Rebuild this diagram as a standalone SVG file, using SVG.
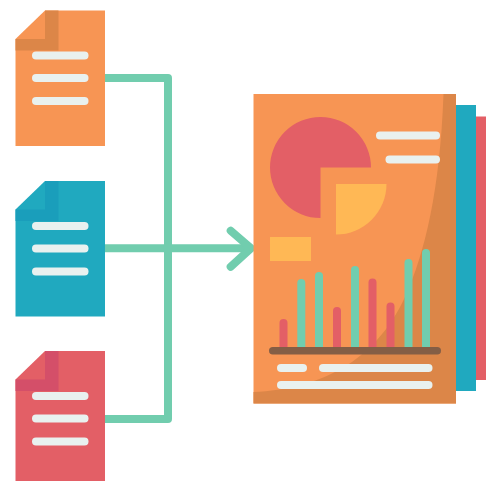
<svg xmlns="http://www.w3.org/2000/svg" width="486" height="481" viewBox="0 0 486 481">
<style>
.ln{fill:#e9f1ef}
.g{fill:#71cdae}
.r{fill:#e35f66}
.y{fill:#ffb855}
.c{fill:none;stroke:#71cdae;stroke-width:8;stroke-linecap:round;stroke-linejoin:round}
</style>
<defs>
<g id="lines">
<rect class="ln" x="32" y="51.500" width="56.500" height="8" rx="4"/>
<rect class="ln" x="32" y="74" width="56.500" height="8" rx="4"/>
<rect class="ln" x="32" y="97" width="56.500" height="8" rx="4"/>
</g>
</defs>
<g id="connectors">
<path class="c" d="M105 78H168V419H105M105 248.300H250"/>
<path class="c" d="M230.700 230.700L251 248.300L230.700 266.700"/>
</g>
<g id="doc-orange">
<path fill="#f79554" d="M45 10.500H105V146H15.500V39Z"/>
<path fill="#dc8648" d="M45 10.500H58.500V50.500H15.500V39H45Z"/>
<use href="#lines"/>
</g>
<g id="doc-teal">
<path fill="#20a9bf" d="M45 181H105V316.500H15.500V209.500Z"/>
<path fill="#1a9ebb" d="M45 181H58.500V221H15.500V209.500H45Z"/>
<use href="#lines" y="170.500"/>
</g>
<g id="doc-red">
<path fill="#e35f66" d="M45 351H105V481H15.500V379.500Z"/>
<path fill="#d44f69" d="M45 351H58.500V391H15.500V379.500H45Z"/>
<use href="#lines" y="340.500"/>
</g>
<g id="report">
<rect class="r" x="476" y="116.500" width="10" height="263.500"/>
<rect fill="#20a9bf" x="456" y="105" width="20" height="286"/>
<rect fill="#f79554" x="253.500" y="94" width="202.500" height="309.500"/>
<path fill="#dc8648" d="M443.500 94H456V403.500H253.500V392C320 389 375 362 405 297C425 253 440 190 443.500 94Z"/>
<path class="r" d="M320.500 167.500H371A50.500 50.500 0 1 0 320.500 218Z"/>
<path class="y" d="M336 184H386.500A50.500 50.500 0 0 1 336 234.500Z"/>
<rect class="y" x="270" y="237" width="41" height="24"/>
<rect class="ln" x="376" y="131.500" width="64" height="8" rx="4"/>
<rect class="ln" x="385.500" y="155.500" width="54.500" height="8" rx="4"/>
<rect class="r" x="279.500" y="319" width="8" height="32" rx="4"/>
<rect class="g" x="297.300" y="279" width="8" height="72" rx="4"/>
<rect class="g" x="315" y="272" width="8" height="79" rx="4"/>
<rect class="r" x="333" y="307" width="8" height="44" rx="4"/>
<rect class="g" x="351" y="266" width="8" height="85" rx="4"/>
<rect class="r" x="368.500" y="278.500" width="8" height="72.500" rx="4"/>
<rect class="r" x="386.500" y="302.500" width="8" height="48.500" rx="4"/>
<rect class="g" x="404.500" y="259" width="8" height="92" rx="4"/>
<rect class="g" x="422" y="249" width="8" height="102" rx="4"/>
<rect fill="#845e45" x="269" y="347" width="172" height="7.500" rx="3.750"/>
<rect class="ln" x="277" y="364" width="30" height="8" rx="4"/>
<rect class="ln" x="319" y="364" width="113.500" height="8" rx="4"/>
<rect class="ln" x="277" y="381" width="155.500" height="8" rx="4"/>
</g>
</svg>
